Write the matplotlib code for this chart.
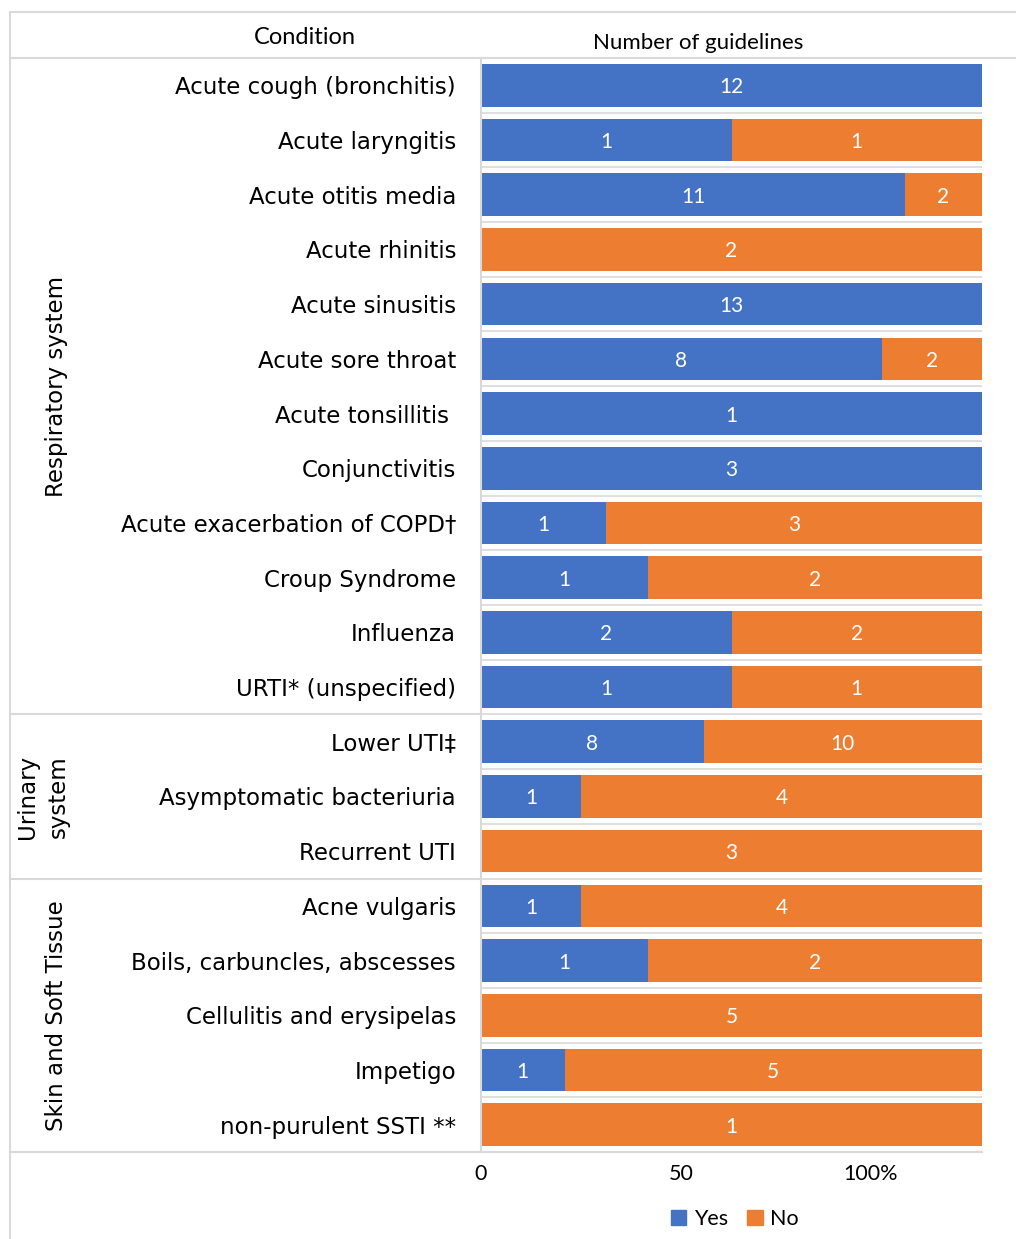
import matplotlib
matplotlib.use("Agg")
import matplotlib.pyplot as plt
from matplotlib.lines import Line2D
from matplotlib.patches import Patch
from matplotlib.transforms import blended_transform_factory
import numpy as np

# Dados
condicoes = ["Acute cough (bronchitis)", "Acute laryngitis", "Acute otitis media",
             "Acute rhinitis", "Acute sinusitis", "Acute sore throat",
             "Acute tonsillitis ", "Conjunctivitis", "Acute exacerbation of COPD\u2020",
             "Croup Syndrome", "Influenza", "URTI* (unspecified)",
             "Lower UTI\u2021", "Asymptomatic bacteriuria", "Recurrent UTI",
             "Acne vulgaris", "Boils, carbuncles, abscesses", "Cellulitis and erysipelas",
             "Impetigo", "non-purulent SSTI **"]
sim = [12, 1, 11, 0, 13, 8, 1, 3, 1, 1, 2, 1, 8, 1, 0, 1, 1, 0, 1, 0]
nao = [0, 1, 2, 2, 0, 2, 0, 0, 3, 2, 2, 1, 10, 4, 3, 4, 2, 5, 5, 1]
grupos = ["Respiratory system", "Urinary\nsystem", "Skin and Soft Tissue"]
grupo_inicio = [0, 12, 15]
grupo_fim = [11, 14, 19]
tick_labels = ["0", "50", "100%"]

AZUL = "#4472C4"
LARANJA = "#ED7D31"
CINZA = "#D9D9D9"

W, H = 1016, 1239
fig = plt.figure(figsize=(W / 100, H / 100), dpi=100)
ax = fig.add_axes([481 / W, 1 - 1152 / H, 501 / W, 1094 / H])

sim = np.array(sim, float)
nao = np.array(nao, float)
tot = sim + nao
y = np.arange(len(condicoes))

b1 = ax.barh(y, sim / tot, height=0.78, color=AZUL, zorder=2)
b2 = ax.barh(y, nao / tot, left=sim / tot, height=0.78, color=LARANJA, zorder=2)
rot = []
rot += ax.bar_label(b1, labels=[str(int(v)) if v > 0 else "" for v in sim], label_type="center",
                    color="white", fontsize=15, family="Lato")
rot += ax.bar_label(b2, labels=[str(int(v)) if v > 0 else "" for v in nao], label_type="center",
                    color="white", fontsize=15, family="Lato")
for t in rot:
    t.set_va("center_baseline")

ax.set_xlim(0, 1)
ax.set_ylim(len(condicoes) - 0.5, -0.5)
for i in range(1, len(condicoes)):
    ax.axhline(i - 0.5, color=CINZA, lw=1.2, zorder=1)

ax.set_yticks(y)
ax.set_yticklabels(condicoes, fontsize=16.5, family="DejaVu Sans")
ax.tick_params(axis="y", length=0, pad=18)
# eixo x com rótulos deslocados como no original
ax.set_xticks([0, 0.4, 0.778])
ax.set_xticklabels(tick_labels, fontsize=15.5, family="Lato")
ax.tick_params(axis="x", length=0, pad=9)
for s in ["top", "right", "bottom"]:
    ax.spines[s].set_visible(False)
ax.spines["left"].set_color(CINZA)
ax.spines["left"].set_linewidth(1.5)

# linhas da tabela
ff = fig.transFigure
fig.add_artist(Line2D([10 / W, 10 / W], [0, 1 - 12 / H], color=CINZA, lw=1.5, transform=ff))
fig.add_artist(Line2D([10 / W, 1], [1 - 12 / H, 1 - 12 / H], color=CINZA, lw=1.5, transform=ff))
fig.add_artist(Line2D([10 / W, 1], [1 - 58 / H, 1 - 58 / H], color=CINZA, lw=1.5, transform=ff))

tr = blended_transform_factory(ff, ax.transData)
for f in grupo_fim[:-1]:
    fig.add_artist(Line2D([10 / W, 480 / W], [f + 0.5, f + 0.5], color=CINZA, lw=1.5, transform=tr))
fig.add_artist(Line2D([10 / W, 982 / W], [grupo_fim[-1] + 0.5] * 2, color=CINZA, lw=1.5, transform=tr))

# rótulos dos grupos
for g, a, b in zip(grupos, grupo_inicio, grupo_fim):
    xg = 43 / W if "\n" in g else 57 / W
    ax.text(xg, (a + b) / 2, g, transform=tr, rotation=90, ha="center", va="center",
            multialignment="center", fontsize=16.5, family="DejaVu Sans", linespacing=1.45)

fig.text(305 / W, 1 - 38 / H, "Condition", ha="center", va="center", fontsize=17, family="Lato")
fig.text(698 / W, 1 - 43 / H, "Number of guidelines", ha="center", va="center", fontsize=16, family="Lato")

fig.legend(handles=[Patch(color=AZUL, label="Yes"), Patch(color=LARANJA, label="No")],
           loc="center", bbox_to_anchor=(735 / W, 1 - 1219 / H), ncol=2, frameon=False,
           prop={"family": "Lato", "size": 15.5}, handlelength=0.7, handleheight=0.7,
           handletextpad=0.35, columnspacing=0.9)

fig.savefig("out.png", dpi=100)
